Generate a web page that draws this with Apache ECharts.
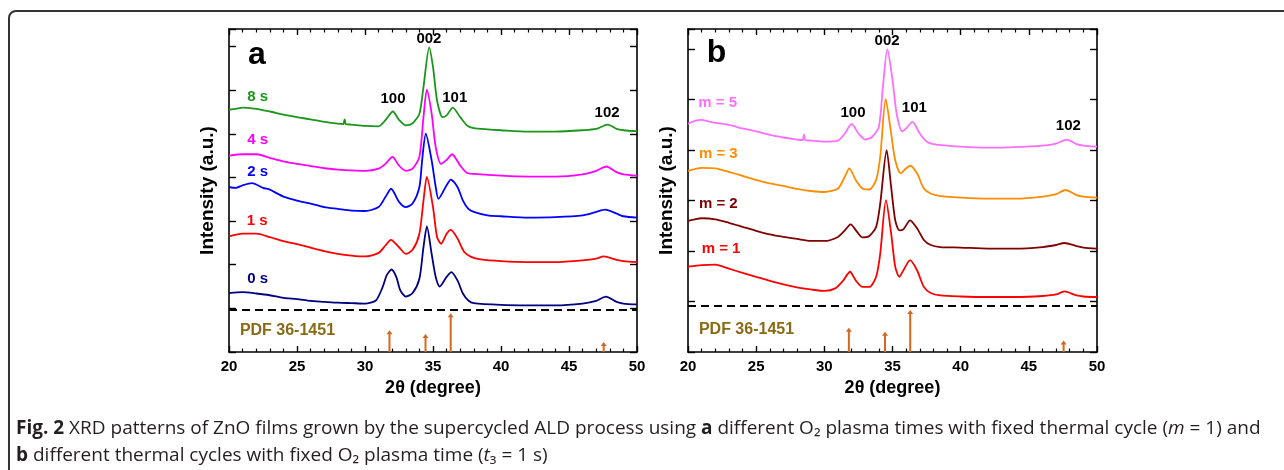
<!DOCTYPE html>
<html>
<head>
<meta charset="utf-8">
<script src="https://cdn.jsdelivr.net/npm/echarts@6/dist/echarts.min.js"></script>
<style>
html,body{margin:0;padding:0;background:#fff;}
#c{width:1284px;height:470px;}
</style>
</head>
<body>
<div id="c"></div>
<script>
// ---------- DATA (2theta in degrees, intensity in arbitrary offset units) ----------
const xTicks = [20, 25, 30, 35, 40, 45, 50];

// Panel a: different O2 plasma times
const a_8s = [[20,5.55],[20.5,5.57],[21,5.60],[22,5.57],[23,5.51],[24,5.44],[25,5.38],[26,5.33],[27,5.27],[28,5.23],[28.4,5.22],[28.5,5.33],[28.6,5.22],[29,5.21],[30,5.18],[31,5.17],[31.5,5.31],[32.05,5.51],[32.5,5.32],[33,5.19],[33.5,5.24],[34,5.46],[34.3,6.07],[34.72,6.98],[35,6.53],[35.3,5.76],[35.7,5.38],[36,5.42],[36.45,5.60],[37,5.38],[37.5,5.19],[38,5.13],[39,5.10],[40,5.08],[42,5.05],[44,5.05],[46,5.08],[47,5.11],[47.85,5.21],[48.5,5.11],[49,5.08],[50,5.06]];
const a_4s = [[20,4.50],[21,4.53],[22,4.53],[23,4.45],[24,4.37],[25,4.31],[26,4.26],[27,4.21],[28,4.18],[29,4.16],[30,4.15],[31,4.20],[31.5,4.31],[32.02,4.47],[32.5,4.27],[33,4.15],[33.5,4.20],[34,4.47],[34.3,5.38],[34.55,6.01],[34.9,5.46],[35.2,4.69],[35.6,4.31],[36,4.40],[36.4,4.53],[37,4.27],[37.5,4.10],[38,4.08],[40,4.04],[42,4.02],[44,4.02],[46,4.07],[47,4.15],[47.74,4.25],[48.5,4.12],[49,4.07],[50,4.04]];
const a_2s = [[20,3.78],[20.5,3.76],[21,3.82],[21.7,3.87],[22.5,3.76],[23,3.72],[23.5,3.64],[24,3.56],[25,3.47],[26,3.40],[27,3.32],[28,3.28],[29,3.24],[30,3.23],[31,3.32],[31.5,3.55],[31.92,3.74],[32.5,3.44],[33,3.32],[33.5,3.40],[34,3.78],[34.2,4.39],[34.47,5.00],[34.9,4.39],[35.2,3.78],[35.4,3.51],[36,3.82],[36.31,3.95],[36.8,3.78],[37.2,3.47],[37.6,3.28],[38,3.21],[39,3.13],[40,3.11],[42,3.08],[44,3.09],[46,3.13],[47,3.21],[47.67,3.26],[48.5,3.17],[49,3.11],[50,3.08]];
const a_1s = [[20,2.65],[21,2.71],[22,2.71],[23,2.63],[24,2.54],[25,2.47],[26,2.39],[27,2.31],[28,2.25],[29,2.21],[30,2.19],[31,2.27],[31.5,2.44],[31.9,2.57],[32.5,2.40],[33,2.25],[33.5,2.34],[34,2.71],[34.3,3.47],[34.55,4.01],[35,3.32],[35.3,2.63],[35.6,2.48],[36,2.71],[36.31,2.80],[36.8,2.60],[37.3,2.29],[37.8,2.18],[38.5,2.12],[40,2.08],[42,2.06],[44,2.06],[46,2.10],[47,2.14],[47.55,2.19],[48.5,2.11],[49,2.08],[50,2.06]];
const a_0s = [[20,1.35],[21,1.37],[22,1.34],[23,1.30],[24,1.24],[25,1.21],[26,1.17],[27,1.15],[28,1.13],[29,1.12],[30,1.11],[30.8,1.18],[31.3,1.49],[31.6,1.76],[31.95,1.89],[32.3,1.72],[32.6,1.41],[33,1.27],[33.5,1.35],[34,1.68],[34.3,2.40],[34.55,2.88],[34.9,2.25],[35.2,1.72],[35.5,1.50],[36,1.72],[36.35,1.83],[36.8,1.64],[37.2,1.34],[37.6,1.18],[38,1.12],[40,1.08],[42,1.07],[44,1.07],[46,1.11],[47,1.17],[47.7,1.27],[48.5,1.15],[49,1.11],[50,1.09]];

// Panel b: different thermal cycles
const b_m5 = [[20,4.52],[20.5,4.58],[21,4.60],[21.5,4.57],[22,4.54],[23,4.50],[24,4.43],[25,4.37],[26,4.30],[27,4.25],[28,4.21],[28.4,4.20],[28.5,4.31],[28.6,4.20],[29,4.19],[30,4.17],[31,4.19],[31.5,4.33],[32.0,4.52],[32.5,4.33],[33,4.21],[33.5,4.26],[34,4.46],[34.3,5.26],[34.62,6.00],[35,5.39],[35.3,4.73],[35.7,4.37],[36,4.43],[36.46,4.56],[37,4.33],[37.5,4.17],[38,4.12],[40,4.07],[42,4.05],[44,4.06],[46,4.09],[47,4.13],[47.8,4.21],[48.5,4.12],[49,4.09],[50,4.07]];
const b_m3 = [[20,3.59],[21,3.65],[22,3.64],[23,3.57],[24,3.49],[25,3.41],[26,3.34],[27,3.29],[28,3.23],[29,3.19],[30,3.17],[31,3.24],[31.5,3.47],[31.83,3.64],[32.3,3.41],[32.8,3.24],[33.3,3.22],[33.8,3.41],[34.1,3.87],[34.5,5.01],[34.9,4.33],[35.2,3.80],[35.6,3.54],[36,3.64],[36.29,3.69],[36.8,3.54],[37.3,3.24],[37.8,3.14],[38.5,3.09],[40,3.06],[42,3.04],[44,3.04],[46,3.08],[47,3.13],[47.7,3.21],[48.5,3.11],[49,3.08],[50,3.06]];
const b_m2 = [[20,2.60],[20.5,2.63],[21,2.65],[22,2.63],[23,2.56],[24,2.48],[25,2.40],[26,2.33],[27,2.28],[28,2.24],[29,2.20],[30,2.20],[31,2.28],[31.5,2.41],[31.93,2.53],[32.4,2.38],[32.8,2.27],[33.3,2.30],[33.8,2.48],[34.1,2.94],[34.57,4.00],[34.9,3.27],[35.2,2.61],[35.5,2.41],[35.8,2.43],[36.29,2.61],[36.8,2.45],[37.3,2.22],[37.8,2.12],[38.5,2.08],[40,2.07],[42,2.05],[44,2.05],[46,2.08],[47,2.12],[47.6,2.16],[48.5,2.10],[49,2.07],[50,2.05]];
const b_m1 = [[20,1.69],[21,1.72],[22,1.73],[23,1.65],[24,1.57],[25,1.49],[26,1.41],[27,1.34],[28,1.28],[29,1.24],[30,1.21],[30.8,1.26],[31.4,1.42],[31.88,1.59],[32.3,1.42],[32.8,1.29],[33.3,1.29],[33.8,1.49],[34.1,1.95],[34.52,3.01],[34.9,2.35],[35.2,1.69],[35.5,1.49],[35.8,1.62],[36.29,1.82],[36.8,1.62],[37.3,1.29],[37.8,1.17],[38.5,1.12],[40,1.10],[42,1.09],[44,1.09],[46,1.11],[47,1.14],[47.6,1.20],[48.5,1.12],[49,1.10],[50,1.09]];

// Reference pattern PDF 36-1451 (stick positions and drawn heights)
const pdfPos = [31.8, 34.45, 36.3, 47.55];
const pdfA = [0.50, 0.41, 0.89, 0.23];
const pdfB = [0.48, 0.40, 0.83, 0.23];
const dashA = 0.96;
const dashB = 0.91;

// Text labels [x, y, text]
const labA = [[21.35,5.85,'8 s'],[21.35,4.86,'4 s'],[21.35,4.13,'2 s'],[21.3,3.00,'1 s'],[21.35,1.67,'0 s']];
const labB = [[20.75,4.94,'m = 5'],[20.8,3.93,'m = 3'],[20.8,2.94,'m = 2'],[21.0,2.04,'m = 1']];
const hklA = [[32.06,5.80,'100'],[34.7,7.18,'002'],[36.6,5.83,'101'],[47.8,5.48,'102']];
const hklB = [[32.1,4.74,'100'],[34.6,6.17,'002'],[36.6,4.84,'101'],[47.9,4.48,'102']];

// ---------- CHART ----------
const colA = ['#1a961a','#ff00ff','#0000ff','#ff0000','#000080'];
const colB = ['#ff6eff','#ff8c00','#800000','#ff0000'];
const seriesA = [a_8s, a_4s, a_2s, a_1s, a_0s];
const seriesB = [b_m5, b_m3, b_m2, b_m1];

const chart = echarts.init(document.getElementById('c'), null, {renderer: 'canvas'});
const F = 'Liberation Sans, Arial, sans-serif';
const FC = 'Open Sans, Noto Sans, sans-serif';

function xAx(gi, pos, show) {
  return {
    type: 'value', gridIndex: gi, position: pos, min: 20, max: 50, interval: 5,
    axisLine: {show: true, onZero: false, lineStyle: {color: '#000', width: 1.6}},
    axisTick: {show: true, inside: true, length: 6, lineStyle: {color: '#000', width: 1.4}},
    minorTick: {show: true, splitNumber: 5, length: 3.5, lineStyle: {color: '#000', width: 1.2}},
    splitLine: {show: false},
    axisLabel: {show: show, fontFamily: F, fontWeight: 'bold', fontSize: 15, color: '#000', margin: 7},
    name: show ? '2\u03b8 (degree)' : '', nameLocation: 'middle', nameGap: 27,
    nameTextStyle: {fontFamily: F, fontWeight: 'bold', fontSize: 18, color: '#000'}
  };
}
function yAx(gi, pos, max, name) {
  return {
    type: 'value', gridIndex: gi, position: pos, min: 0, max: max, interval: 1,
    axisLine: {show: true, onZero: false, lineStyle: {color: '#000', width: 1.6}},
    axisTick: {show: true, inside: true, length: 7, lineStyle: {color: '#000', width: 1.4}},
    splitLine: {show: false},
    axisLabel: {show: false},
    name: name, nameLocation: 'middle', nameGap: 12,
    nameTextStyle: {fontFamily: F, fontWeight: 'bold', fontSize: 19, color: '#000'}
  };
}

function curve(data, color, xi, yi) {
  return {type: 'line', xAxisIndex: xi, yAxisIndex: yi, data: data, showSymbol: false, symbol: 'none',
    smooth: 0.25, lineStyle: {color: color, width: 1.8}, silent: true, z: 3};
}
function dash(v, xi, yi) {
  return {type: 'line', xAxisIndex: xi, yAxisIndex: yi, data: [[20, v], [50, v]], symbol: 'none',
    lineStyle: {color: '#000', width: 2, type: [8, 5]}, silent: true, z: 2};
}
function sticks(pos, h, xi, yi) {
  return {
    type: 'custom', xAxisIndex: xi, yAxisIndex: yi, silent: true, z: 4,
    data: pos.map((p, i) => [p, h[i]]),
    renderItem: function (params, api) {
      const base = api.coord([api.value(0), 0]);
      const top = api.coord([api.value(0), api.value(1)]);
      const c = '#d2691e';
      return {type: 'group', children: [
        {type: 'line', shape: {x1: base[0], y1: base[1], x2: top[0], y2: top[1] + 2}, style: {stroke: c, lineWidth: 2}},
        {type: 'polygon', shape: {points: [[top[0] - 3, top[1] + 4], [top[0] + 3, top[1] + 4], [top[0], top[1]]]}, style: {fill: c}}
      ]};
    }
  };
}
function texts(arr, colors, xi, yi, align, size) {
  return {
    type: 'scatter', xAxisIndex: xi, yAxisIndex: yi, symbolSize: 0, silent: true, z: 5,
    itemStyle: {opacity: 1},
    data: arr.map((d, i) => ({value: [d[0], d[1]], label: {color: colors ? colors[i] : '#000'}, name: d[2]})),
    label: {show: true, position: 'inside', align: align, verticalAlign: 'middle', textBorderWidth: 0,
      formatter: p => p.name, fontFamily: F, fontWeight: 'bold', fontSize: size}
  };
}
function single(x, y, t, color, size, align, xi, yi) {
  return {
    type: 'scatter', xAxisIndex: xi, yAxisIndex: yi, symbolSize: 0, silent: true, z: 5,
    itemStyle: {opacity: 1},
    data: [{value: [x, y], name: t, label: {color: color}}],
    label: {show: true, position: 'inside', align: align, verticalAlign: 'middle', color: color, textBorderWidth: 0,
      formatter: p => p.name, fontFamily: F, fontWeight: 'bold', fontSize: size}
  };
}

const series = [];
seriesA.forEach((d, i) => series.push(curve(d, colA[i], 0, 0)));
seriesB.forEach((d, i) => series.push(curve(d, colB[i], 2, 2)));
series.push(dash(dashA, 0, 0), dash(dashB, 2, 2));
series.push(sticks(pdfPos, pdfA, 0, 0), sticks(pdfPos, pdfB, 2, 2));
series.push(texts(labA, colA, 0, 0, 'left', 15), texts(labB, colB, 2, 2, 'left', 15));
series.push(texts(hklA, null, 0, 0, 'center', 15), texts(hklB, null, 2, 2, 'center', 15));
series.push(single(22.06, 6.81, 'a', '#000', 32, 'center', 0, 0), single(22.1, 5.93, 'b', '#000', 32, 'center', 2, 2));
series.push(single(20.8, 0.50, 'PDF 36-1451', '#8a6a14', 16, 'left', 0, 0), single(20.8, 0.44, 'PDF 36-1451', '#8a6a14', 16, 'left', 2, 2));

const cap1 = '{b|Fig. 2} XRD patterns of ZnO films grown by the supercycled ALD process using {b|a} different O\u2082 plasma times with fixed thermal cycle ({i|m} = 1) and';
const cap2 = '{b|b} different thermal cycles with fixed O\u2082 plasma time ({i|t}\u2083 = 1 s)';
const capStyle = {fontFamily: FC, fontSize: 19, fill: '#231f20',
  rich: {b: {fontFamily: FC, fontSize: 19, fontWeight: 'bold', color: '#231f20'}, i: {fontFamily: FC, fontSize: 19, fontStyle: 'italic', color: '#231f20'}}};

chart.setOption({
  animation: false,
  backgroundColor: '#fff',
  grid: [
    {left: 229, top: 29, width: 408, height: 323},
    {left: 688, top: 29, width: 409, height: 323}
  ],
  xAxis: [xAx(0, 'bottom', true), xAx(0, 'top', false), xAx(1, 'bottom', true), xAx(1, 'top', false)],
  yAxis: [yAx(0, 'left', 7.4, 'Intensity (a.u.)'), yAx(0, 'right', 7.4, ''), yAx(1, 'left', 6.4, 'Intensity (a.u.)'), yAx(1, 'right', 6.4, '')],
  series: series,
  graphic: [
    {type: 'rect', shape: {x: 9, y: 11, width: 1300, height: 500, r: 7}, style: {fill: 'none', stroke: '#333', lineWidth: 2}, silent: true},
    {type: 'text', left: 16, top: 419, style: Object.assign({text: cap1}, capStyle), silent: true},
    {type: 'text', left: 16, top: 446, style: Object.assign({text: cap2}, capStyle), silent: true}
  ]
});
</script>
</body>
</html>
